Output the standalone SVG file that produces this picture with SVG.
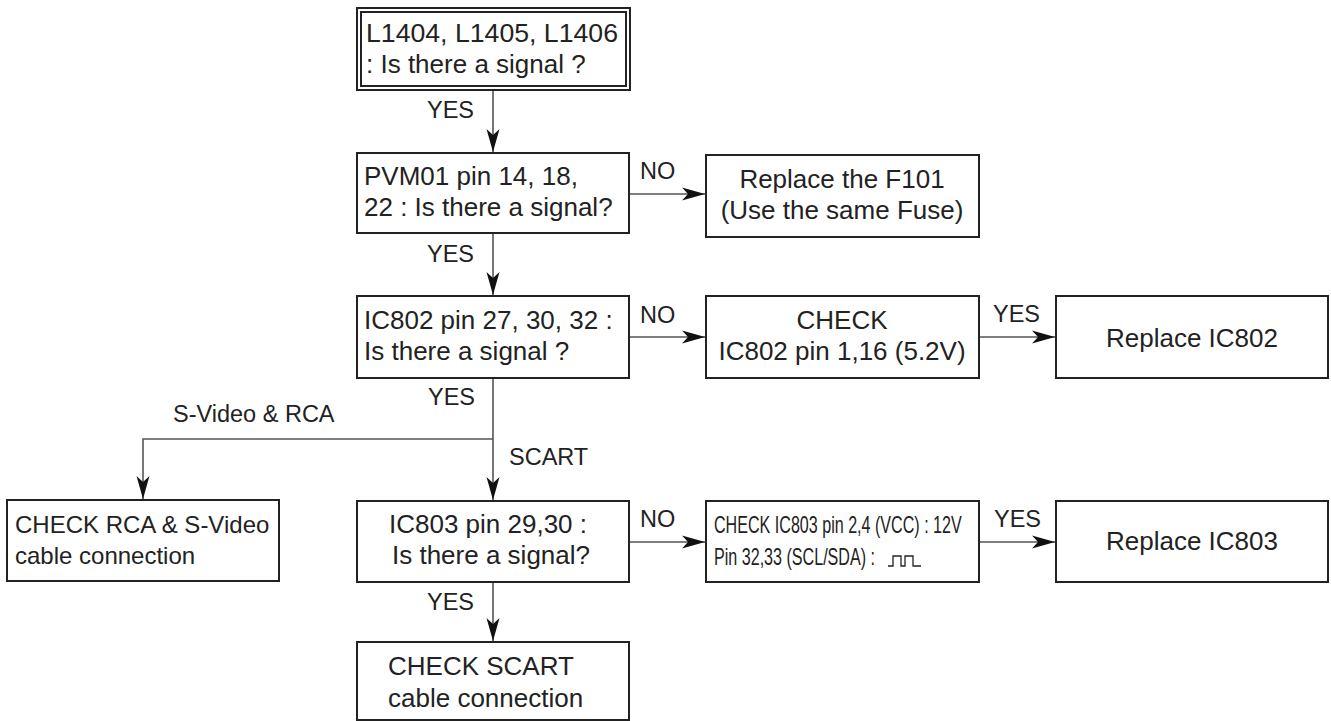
<svg xmlns="http://www.w3.org/2000/svg" width="1331" height="721" viewBox="0 0 1331 721">
<defs>
<style>
.box{fill:#fff;stroke:#222;stroke-width:2}
.t{font-family:"Liberation Sans",Arial,sans-serif;font-size:26px;fill:#222}
.s{font-size:24px}
.c{text-anchor:middle}
.lbl{font-family:"Liberation Sans",Arial,sans-serif;font-size:23.5px;fill:#222}
.cn{fill:none;stroke:#555;stroke-width:1.6}
.nar{font-family:"Liberation Sans",Arial,sans-serif;font-size:23px;fill:#222}
</style>
<marker id="ah" markerUnits="userSpaceOnUse" markerWidth="26" markerHeight="16" viewBox="-24 -8 26 16" refX="0" refY="0" orient="auto">
<path d="M0,0 L-23,-6.5 L-17,0 L-23,6.5 Z" fill="#111"/>
</marker>
</defs>
<rect width="1331" height="721" fill="#fff"/>

<g id="connectors">
<path class="cn" d="M493,91 V152" marker-end="url(#ah)"/>
<path class="cn" d="M629,194 H705" marker-end="url(#ah)"/>
<path class="cn" d="M493,234 V295" marker-end="url(#ah)"/>
<path class="cn" d="M629,337 H705" marker-end="url(#ah)"/>
<path class="cn" d="M979,337 H1055" marker-end="url(#ah)"/>
<path class="cn" d="M493,378 V500" marker-end="url(#ah)"/>
<path class="cn" d="M493,439 H143 V499" marker-end="url(#ah)"/>
<path class="cn" d="M629,542 H705" marker-end="url(#ah)"/>
<path class="cn" d="M979,542 H1055" marker-end="url(#ah)"/>
<path class="cn" d="M493,582 V641" marker-end="url(#ah)"/>
<text class="lbl" x="427" y="118">YES</text>
<text class="lbl" x="640" y="179">NO</text>
<text class="lbl" x="427" y="262">YES</text>
<text class="lbl" x="640" y="323">NO</text>
<text class="lbl" x="993" y="322">YES</text>
<text class="lbl" x="428" y="405">YES</text>
<text class="lbl" x="173" y="422">S-Video &amp; RCA</text>
<text class="lbl" x="509" y="465">SCART</text>
<text class="lbl" x="640" y="527">NO</text>
<text class="lbl" x="994" y="527">YES</text>
<text class="lbl" x="427" y="610">YES</text>
</g>

<g id="n1">
<rect class="box" x="357" y="8" width="273" height="82"/>
<rect class="box" x="361" y="12" width="265" height="74" stroke-width="1.5"/>
<text class="t" x="366" y="42" textLength="252" lengthAdjust="spacingAndGlyphs">L1404, L1405, L1406</text>
<text class="t" x="366" y="73">: Is there a signal ?</text>
</g>

<g id="n2">
<rect class="box" x="357" y="153" width="272" height="80"/>
<text class="t" x="364" y="185">PVM01 pin 14, 18,</text>
<text class="t" x="364" y="216">22 : Is there a signal?</text>
</g>

<g id="n3">
<rect class="box" x="706" y="155" width="273" height="82"/>
<text class="t c" x="842" y="188">Replace the F101</text>
<text class="t c" x="842" y="219">(Use the same Fuse)</text>
</g>

<g id="n4">
<rect class="box" x="357" y="296" width="272" height="82"/>
<text class="t" x="364" y="329">IC802 pin 27, 30, 32 :</text>
<text class="t" x="364" y="360">Is there a signal ?</text>
</g>

<g id="n5">
<rect class="box" x="706" y="296" width="273" height="82"/>
<text class="t c" x="842" y="329">CHECK</text>
<text class="t c" x="842" y="360">IC802 pin 1,16 (5.2V)</text>
</g>

<g id="n6">
<rect class="box" x="1056" y="296" width="272" height="82"/>
<text class="t c" x="1192" y="347">Replace IC802</text>
</g>

<g id="n7">
<rect class="box" x="7" y="500" width="272" height="81"/>
<text class="t s" x="15" y="533">CHECK RCA &amp; S-Video</text>
<text class="t s" x="15" y="564">cable connection</text>
</g>

<g id="n8">
<rect class="box" x="357" y="501" width="272" height="81"/>
<text class="t c" x="488" y="533">IC803 pin 29,30 :</text>
<text class="t c" x="491" y="564">Is there a signal?</text>
</g>

<g id="n9">
<rect class="box" x="706" y="501" width="273" height="81"/>
<text class="nar" transform="translate(714,533) scale(0.7,1)">CHECK IC803 pin 2,4 (VCC) : 12V</text>
<text class="nar" transform="translate(714,565) scale(0.7,1)">Pin 32,33 (SCL/SDA) :</text>
<path d="M888,566 H893 V556 H901 V566 H905 V556 H913 V566 H921" fill="none" stroke="#222" stroke-width="1.3"/>
</g>

<g id="n10">
<rect class="box" x="1056" y="501" width="272" height="81"/>
<text class="t c" x="1192" y="550">Replace IC803</text>
</g>

<g id="n11">
<rect class="box" x="357" y="642" width="272" height="78"/>
<text class="t" x="388" y="675">CHECK SCART</text>
<text class="t" x="388" y="707">cable connection</text>
</g>
</svg>
